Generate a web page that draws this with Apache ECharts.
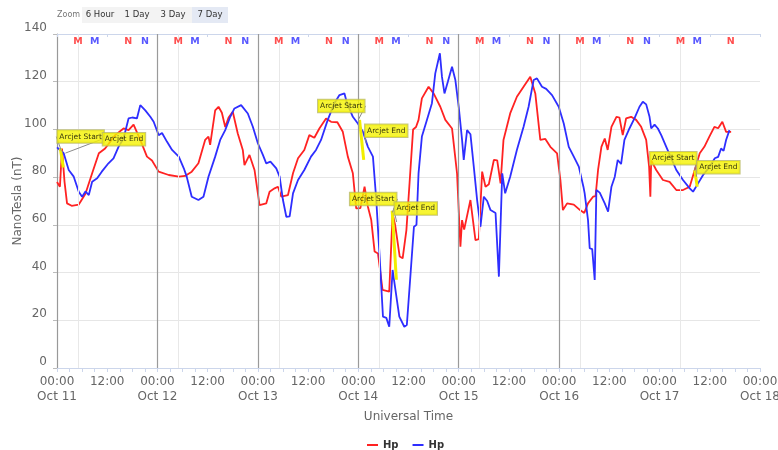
<!DOCTYPE html>
<html>
<head>
<meta charset="utf-8">
<script src="https://cdn.jsdelivr.net/npm/echarts@6/dist/echarts.min.js"></script>
<style>
  html, body { margin: 0; padding: 0; background: #fff; }
  #chart { width: 778px; height: 450px; }
</style>
</head>
<body>
<div id="chart"></div>
<script>
// Time is counted in hours from Oct 11 00:00 UT; the axis spans one week.
const dayNames = ['Oct 11', 'Oct 12', 'Oct 13', 'Oct 14', 'Oct 15', 'Oct 16', 'Oct 17', 'Oct 18'];

// Hp field, GOES-13 (red)
const redHours = [0, 0.7, 1.2, 1.8, 2.4, 3.5, 5.2, 6.8, 8.4, 10, 11.5, 13.9, 15.9, 17.1, 18.3, 19.9, 21.5, 22.7, 24.3, 26.7,
  29.1, 30.6, 32.2, 33.8, 35.4, 36.2, 36.6, 37.8, 38.6, 39.4, 40.2, 41, 42, 43.2, 44.4, 44.8, 46, 47.2, 48.4, 50,
  50.8, 52, 52.8, 53.6, 55.2, 56.4, 57.6, 59.1, 60.3, 61.5, 62.7, 64.3, 65.5, 67, 68.3, 69.5, 70.7, 71.5, 72.5, 73.5,
  74.3, 75.1, 75.9, 76.7, 77.8, 79.4, 80.2, 80.8, 81.9, 82.6, 83.5, 84.3, 85.1, 85.8, 86.4, 87.2, 88.8, 90, 91.6, 92.8,
  94.4, 95.6, 96.4, 96.8, 97.3, 98.8, 100, 100.8, 101.6, 102.4, 103.2, 104.4, 105.2, 106, 106.7, 108.3, 109.9, 111.5, 113.1, 114.3,
  115.5, 116.7, 117.9, 119.5, 120.3, 120.9, 121.9, 123.5, 125, 126, 126.9, 128.1, 128.7, 129.3, 130.1, 130.9, 131.6, 132.5, 133.7, 134.4,
  135.2, 136, 137.2, 138.4, 139.6, 140.8, 141.5, 141.8, 142, 143.2, 144.8, 146.4, 148, 149.6, 151.2, 152.4, 153.6, 154.7, 155.9, 157.1,
  158, 159, 159.9, 161.1];
const redValues = [78, 76, 92, 78, 69, 68, 68.5, 73, 81.6, 90, 92, 97.6, 100.4, 99.7, 102, 95.6, 88.6, 87, 82.3, 80.9,
  80.2, 80.5, 82.3, 85.8, 95.6, 97, 93.5, 108, 109.5, 107, 101, 105, 107.4, 98.3, 91.4, 85, 89.3, 83, 68.3, 69,
  73.9, 75.3, 76, 71.8, 72.5, 81.6, 87.9, 91.4, 97.6, 96.5, 100.4, 104.6, 103.2, 103, 99, 88.6, 81.6, 66.9, 67, 76,
  67.6, 62, 48.8, 48, 32.7, 32, 64.8, 60, 46.7, 46, 57.8, 78.8, 100, 101, 104, 113, 117.9, 115.1, 109.5, 104,
  100.4, 81.6, 50.8, 62, 58, 70.4, 53.6, 54, 82.3, 76, 77, 87.2, 87, 77.4, 95.6, 106.7, 113.7, 117.9, 122.1, 115.1,
  95.6, 96, 92.7, 90, 78.8, 66.2, 69, 68.5, 66.2, 65, 69, 71.8, 72, 83, 92.7, 96.2, 91.4, 101.1, 105.3, 105,
  97.6, 104.6, 105.3, 104, 101.1, 95.6, 84.4, 71.8, 87, 83, 78.8, 78, 74.6, 74.6, 76, 83, 90, 92.7, 97, 101.1,
  100.5, 103.2, 99, 99];

// Hp field, GOES-15 (blue)
const blueHours = [0, 1.6, 2.8, 4, 5.2, 6, 6.8, 7.6, 8.4, 9.6, 10.7, 12.3, 13.5, 14.7, 15.9, 17.1, 18, 19.1, 19.9, 21.1,
  22.3, 23.1, 24.3, 25.1, 26.3, 27.5, 29.1, 30.3, 31, 32.2, 33.8, 35, 36.2, 37.8, 39, 40.2, 41.4, 42.4, 44, 45.6,
  46.8, 48, 49.2, 50, 51, 52.4, 53.2, 54, 54.8, 55.6, 56.4, 57.6, 59.1, 60.7, 61.9, 63.1, 64.7, 66.3, 67.5, 68.7,
  69.3, 70.7, 71.9, 73.1, 74.3, 75.5, 76.3, 77.1, 77.9, 78.7, 79.4, 80.2, 81, 81.8, 83, 83.6, 84.5, 85.3, 85.9, 86.4,
  87.2, 88.4, 89.6, 90.4, 91.5, 92, 92.6, 93.4, 94.4, 95.2, 96, 96.8, 97.2, 98, 98.8, 99.6, 100.4, 101.2, 102, 102.8,
  103.6, 104.8, 105.6, 106.4, 107.1, 108.3, 109.9, 111.5, 112.7, 113.9, 114.7, 115.9, 116.9, 118.3, 119.9, 121.1, 122.3, 123.5, 124.7, 125.8,
  126.1, 126.9, 127.3, 127.9, 128.5, 128.9, 129.7, 130.9, 131.7, 132.5, 133.3, 134, 134.8, 135.6, 136.8, 138, 139.2, 140, 140.8, 141.6,
  142, 142.8, 143.6, 144.4, 145.6, 146.8, 148, 149.6, 151.2, 152, 153.2, 154.4, 156, 157.2, 158, 158.7, 159.3, 159.9, 160.7];
const blueValues = [92.5, 90, 83, 80.2, 73.9, 71.8, 74, 72.5, 78.1, 79.5, 82.3, 85.8, 87.9, 92.7, 96.2, 104.6, 105, 104.6, 110.2, 108,
  105.3, 103.2, 97.6, 98.5, 94.8, 91.4, 88.6, 83.7, 80.2, 71.8, 70.4, 71.8, 80.2, 88.6, 95.6, 99.7, 105.3, 108.8, 110.2, 106.7,
  101.1, 94.2, 89.3, 85.8, 86.5, 83.7, 80.2, 70.4, 63.4, 63.6, 73.2, 78.8, 83, 88.6, 91.4, 95.6, 104, 111, 114.4, 115.1,
  111, 105.3, 102.5, 99, 92.7, 88.6, 70.4, 46.7, 21.5, 21, 17.3, 41.1, 31.3, 21.5, 17.3, 18, 39.7, 59.2, 60, 81.6,
  97, 104, 111, 123.5, 131.9, 122, 115.1, 120, 126.3, 120.7, 109.5, 95.6, 87.2, 99.7, 98, 84.4, 70.4, 59.2, 71.8, 70,
  66.2, 65, 38.3, 81.6, 73.2, 80.2, 91.4, 101.1, 109.5, 120.7, 121.4, 117.9, 117, 114.4, 109.5, 102.5, 92.7, 88.6, 84.4, 76,
  73.2, 62, 50.2, 49.8, 36.9, 74.6, 73.5, 69, 65.5, 76, 80.2, 87.2, 85.5, 95.6, 100.4, 104.6, 109.5, 111.6, 110.5, 105.3,
  100.4, 102, 100.4, 97.6, 92.7, 87.9, 83, 78.8, 75.3, 73.9, 77.4, 80.9, 84.4, 87.9, 88.5, 92, 91, 95.6, 99.7];

// Arcjet events: highlighted stretch (start/end) and flag anchors
const arcSegStartH = [0.8, 72.3, 80.1, 152.4];
const arcSegStartV = [92, 104, 66, 83];
const arcSegEndH = [1.5, 73.3, 81.1, 153.0];
const arcSegEndV = [84, 87.2, 37, 76];

const flagHours = [1.1, 1.9, 72.0, 73.9, 80.1, 81.2, 152.3, 152.8];
const flagValues = [90.7, 90, 104, 94, 65, 61, 82.5, 80];
const flagTexts = ['Arcjet Start', 'Arcjet End', 'Arcjet Start', 'Arcjet End',
  'Arcjet Start', 'Arcjet End', 'Arcjet Start', 'Arcjet End'];

// Local midnight (M) / noon (N) markers: 0 = GOES-13, 1 = GOES-15
const markerHours = [5, 9, 17, 21, 29, 33, 41, 45, 53, 57, 65, 69, 77, 81, 89, 93,
  101, 105, 113, 117, 125, 129, 137, 141, 149, 153, 161];
const markerLetters = ['M', 'M', 'N', 'N', 'M', 'M', 'N', 'N', 'M', 'M', 'N', 'N', 'M', 'M', 'N', 'N',
  'M', 'M', 'N', 'N', 'M', 'M', 'N', 'N', 'M', 'M', 'N'];
const markerSat = [0, 1, 0, 1, 0, 1, 0, 1, 0, 1, 0, 1, 0, 1, 0, 1, 0, 1, 0, 1, 0, 1, 0, 1, 0, 1, 0];
const markerLevel = 137;

// Day boundaries with a darker rule, and the 05 UT reference lines
const dayLineHours = [24, 48, 72, 96, 120];
const localLineHours = [5, 29, 53, 77, 101, 125, 149];

// --- layout / style ---
const FONT = '"DejaVu Sans", "Lucida Grande", sans-serif';
const RED = '#ff2222';
const BLUE = '#2e2eff';
const flagOffsets = [[19, -15], [59, -14], [-17, -14], [20, -13], [-19, -14], [19, -14], [-21, -13], [22, -10]];

const zip = (a, b) => a.map((x, i) => [x, b[i]]);

const arcSeries = arcSegStartH.map((h, i) => ({
  type: 'line',
  name: 'arcjet-' + i,
  data: [[h, arcSegStartV[i]], [arcSegEndH[i], arcSegEndV[i]]],
  symbol: 'none',
  lineStyle: { color: '#f2ee00', width: 3 },
  z: 4,
  silent: true
}));

const chart = echarts.init(document.getElementById('chart'), null, { renderer: 'canvas' });

chart.setOption({
  animation: false,
  backgroundColor: '#fff',
  textStyle: { fontFamily: FONT },
  grid: { left: 57, right: 18, top: 34, bottom: 82, outerBoundsMode: 'none', containLabel: false },
  legend: {
    data: ['Hp (G13)', 'Hp (G15)'],
    formatter: () => 'Hp',
    left: 362,
    top: 435,
    icon: 'rect',
    itemWidth: 11,
    itemHeight: 2,
    itemGap: 14,
    textStyle: { fontSize: 10, fontWeight: 'bold', color: '#333', fontFamily: FONT }
  },
  xAxis: [{
    type: 'value',
    min: 0,
    max: 168,
    interval: 12,
    name: 'Universal Time',
    nameLocation: 'middle',
    nameGap: 43,
    nameMoveOverlap: false,
    nameTextStyle: { fontSize: 12, color: '#666', fontFamily: FONT },
    axisLine: { lineStyle: { color: '#ccd6eb' } },
    axisTick: { show: true, length: 4, lineStyle: { color: '#ccd6eb' } },
    minorTick: { show: true, splitNumber: 4, length: 4, lineStyle: { color: '#ccd6eb' } },
    splitLine: { show: false },
    axisLabel: {
      fontSize: 12,
      color: '#666',
      lineHeight: 15,
      margin: 6,
      fontFamily: FONT,
      formatter: v => (v % 24 === 0 ? '00:00\n' + dayNames[v / 24] : '12:00')
    }
  }, {
    type: 'value',
    position: 'top',
    min: 0,
    max: 168,
    interval: 12,
    axisLine: { show: true, lineStyle: { color: '#ccd6eb' } },
    axisTick: { show: true, inside: true, length: 3, lineStyle: { color: '#ccd6eb' } },
    axisLabel: { show: false },
    splitLine: { show: false }
  }],
  yAxis: {
    type: 'value',
    min: 0,
    max: 140,
    interval: 20,
    name: 'NanoTesla (nT)',
    nameLocation: 'middle',
    nameGap: 33,
    nameMoveOverlap: false,
    nameTextStyle: { fontSize: 12, color: '#666', fontFamily: FONT },
    axisLine: { show: true, lineStyle: { color: '#999', width: 1.2 } },
    axisTick: { show: true, length: 4, lineStyle: { color: '#bbb' } },
    splitLine: { show: true, lineStyle: { color: '#e6e6e6' } },
    axisLabel: { fontSize: 12, color: '#666', margin: 10, verticalAlign: 'bottom', fontFamily: FONT }
  },
  graphic: [
    { type: 'text', x: 57, y: 15, style: { text: 'Zoom', fontSize: 8, fill: '#777', textVerticalAlign: 'middle', verticalAlign: 'middle', fontFamily: FONT } },
    { type: 'rect', shape: { x: 82, y: 7, width: 146, height: 16 }, style: { fill: '#f3f3f3' } },
    { type: 'rect', shape: { x: 192, y: 7, width: 36, height: 16 }, style: { fill: '#e4e9f4' } },
    ...[['6 Hour', 100], ['1 Day', 137], ['3 Day', 173], ['7 Day', 210]].map(([t, cx]) => ({
      type: 'text', x: cx, y: 15,
      style: { text: t, fontSize: 8.5, fill: '#333', textAlign: 'center', align: 'center',
        textVerticalAlign: 'middle', verticalAlign: 'middle', fontFamily: FONT }
    }))
  ],
  series: [
    {
      type: 'line',
      name: 'reference-lines',
      data: [],
      silent: true,
      z: 1,
      markLine: {
        silent: true,
        symbol: 'none',
        label: { show: false },
        data: [
          ...localLineHours.map(h => ({ xAxis: h, lineStyle: { color: '#e8e8e8', width: 1, type: 'solid' } })),
          ...dayLineHours.map(h => ({ xAxis: h, lineStyle: { color: '#9a9a9a', width: 1.2, type: 'solid' } }))
        ]
      }
    },
    {
      type: 'line',
      name: 'Hp (G13)',
      data: zip(redHours, redValues),
      symbol: 'none',
      color: RED,
      lineStyle: { color: RED, width: 1.8 },
      z: 3
    },
    {
      type: 'line',
      name: 'Hp (G15)',
      data: zip(blueHours, blueValues),
      symbol: 'none',
      color: BLUE,
      lineStyle: { color: BLUE, width: 1.8 },
      z: 3
    },
    ...arcSeries,
    {
      type: 'scatter',
      name: 'arcjet-flags',
      data: zip(flagHours, flagValues),
      symbolSize: 1,
      itemStyle: { color: 'rgba(0,0,0,0)' },
      silent: true,
      z: 6,
      label: {
        show: true,
        position: 'inside',
        formatter: p => flagTexts[p.dataIndex],
        fontSize: 7.5,
        color: '#000',
        fontFamily: FONT,
        backgroundColor: '#f5f200',
        borderColor: '#b8b860',
        borderWidth: 1,
        padding: [2.5, 2, 2, 2]
      },
      labelLayout: p => ({ dx: flagOffsets[p.dataIndex][0], dy: flagOffsets[p.dataIndex][1] }),
      labelLine: { show: true, lineStyle: { color: '#8a8a8a', width: 1 } }
    },
    {
      type: 'scatter',
      name: 'local-time-markers',
      data: markerHours.map((h, i) => ({
        value: [h, markerLevel],
        label: { color: markerSat[i] === 0 ? RED : BLUE }
      })),
      symbolSize: 1,
      itemStyle: { color: 'rgba(0,0,0,0)' },
      silent: true,
      z: 5,
      label: {
        show: true,
        position: 'inside',
        fontSize: 9.5,
        fontWeight: 'bold',
        fontFamily: FONT,
        formatter: p => markerLetters[p.dataIndex]
      }
    }
  ]
});
</script>
</body>
</html>
